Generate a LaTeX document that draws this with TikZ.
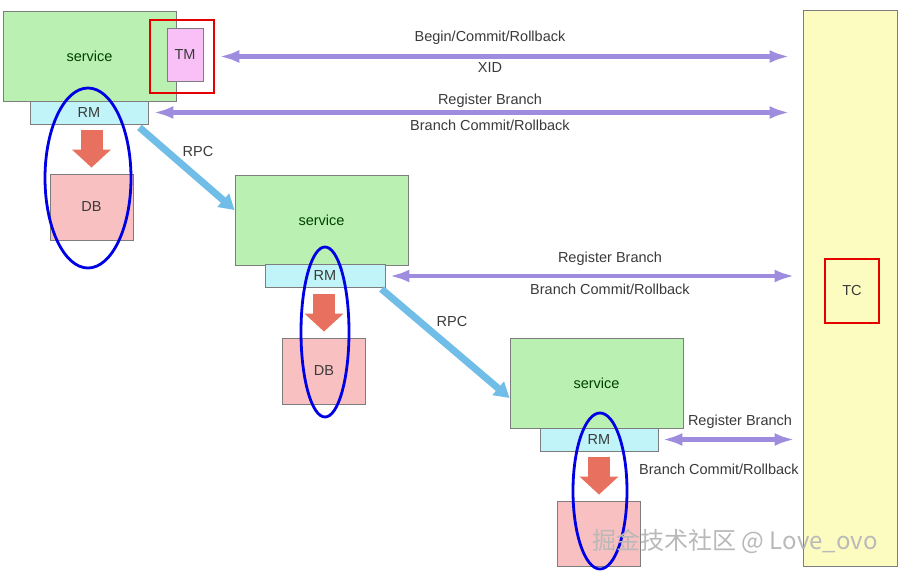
\documentclass[tikz,border=0pt]{standalone}
\usepackage{fontspec}
\setmainfont{Liberation Sans}
\newfontfamily\cjkfont{Noto Sans CJK SC}
\usetikzlibrary{arrows.meta}
\definecolor{svcgreen}{RGB}{186,240,178}
\definecolor{rmcyan}{RGB}{192,244,248}
\definecolor{tmpink}{RGB}{248,192,246}
\definecolor{dbpink}{RGB}{248,192,192}
\definecolor{tcyellow}{RGB}{253,252,192}
\definecolor{msgpurple}{RGB}{158,140,222}
\definecolor{rpcblue}{RGB}{112,190,232}
\definecolor{flowred}{RGB}{232,112,94}
\definecolor{boxgray}{RGB}{125,125,125}
\definecolor{labelgray}{RGB}{58,58,58}
\tikzset{
  box/.style={draw=boxgray,line width=0.9pt,inner sep=0pt,font=\fontsize{14.5}{14.5}\selectfont,text=labelgray},
  service/.style={box,fill=svcgreen,minimum width=173pt,minimum height=90pt,text=green!25!black},
  rmbox/.style={box,fill=rmcyan,minimum width=118pt,minimum height=23pt},
  dbbox/.style={box,fill=dbpink,minimum width=83pt,minimum height=66pt},
  tmbox/.style={box,fill=tmpink,minimum width=36pt,minimum height=53pt},
  tcbar/.style={box,fill=tcyellow,minimum width=94pt,minimum height=556pt},
  redframe/.style={draw=red!90!black,line width=2.6pt,inner sep=0pt,font=\fontsize{14.5}{14.5}\selectfont,text=labelgray},
  msg/.style={{Latex[length=20pt,width=13pt]}-{Latex[length=20pt,width=13pt]},line width=4.5pt,msgpurple},
  rpc/.style={-{Triangle[length=15pt,width=17pt]},line width=7pt,rpcblue},
  flow/.style={-{Triangle[length=18pt,width=38pt]},line width=22pt,flowred,shorten <=6pt,shorten >=6pt},
  ring/.style={draw=blue!90!black,line width=2.8pt},
  lbl/.style={font=\fontsize{14.5}{14.5}\selectfont,text=labelgray,inner sep=0pt}
}
\begin{document}
\begin{tikzpicture}[x=1pt,y=-1pt]
  \useasboundingbox (0,0) rectangle (903,573);
  \fill[white] (0,0) rectangle (903,573);
  \node[tcbar] (tc) at (850,288) {};
  \node[redframe,minimum width=54pt,minimum height=64pt] (tcframe) at (852,291) {TC};

  \node[service] (svc1) at (89.5,56) {service};
  \node[tmbox] (tm) at (185,54.5) {TM};
  \node[redframe,minimum width=64pt,minimum height=73pt] (tmframe) at (182,56.5) {};
  \node[rmbox] (rm1) at (89,112.5) {RM};
  \node[dbbox] (db1) at (91.5,207) {DB};

  \node[service] (svc2) at (321.5,220) {service};
  \node[rmbox,minimum width=120pt] (rm2) at (325,276) {RM};
  \node[dbbox] (db2) at (324,371) {DB};

  \node[service] (svc3) at (596.5,383) {service};
  \node[rmbox] (rm3) at (599,439.5) {RM};
  \node[dbbox,minimum height=65pt] (db3) at (599,533.5) {};

  \draw[msg,shorten <=4pt,shorten >=13pt] (tmframe.east) -- (tmframe.east -| tc.west);
  \node[lbl] at (490,38) {Begin/Commit/Rollback};
  \node[lbl] at (490,68) {XID};
  \draw[msg,shorten <=5pt,shorten >=13pt] (rm1.east) -- (rm1.east -| tc.west);
  \node[lbl] at (490,101) {Register Branch};
  \node[lbl] at (490,125) {Branch Commit/Rollback};
  \draw[msg,shorten <=4pt,shorten >=8pt] (rm2.east) -- (rm2.east -| tc.west);
  \node[lbl] at (610,259) {Register Branch};
  \node[lbl] at (610,289) {Branch Commit/Rollback};
  \draw[msg,shorten <=4pt,shorten >=8pt] (rm3.east) -- (rm3.east -| tc.west);
  \node[lbl] at (740,422) {Register Branch};
  \node[lbl] at (719,469) {Branch Commit/Rollback};

  \draw[rpc] ([xshift=-9pt,yshift=-3pt]rm1.south east) -- ([yshift=10pt]svc2.west);
  \node[lbl] at (198,152) {RPC};
  \draw[rpc] ([xshift=-4pt,yshift=-1pt]rm2.south east) -- ([yshift=-15pt]svc3.west);
  \node[lbl] at (452,322) {RPC};

  \draw[flow] (db1.north |- rm1.south) -- (db1.north);
  \draw[flow] (db2.north |- rm2.south) -- (db2.north);
  \draw[flow] (db3.north |- rm3.south) -- (db3.north);

  \draw[ring] (88,178) ellipse [x radius=43pt,y radius=90pt];
  \draw[ring] (325,332) ellipse [x radius=24pt,y radius=85pt];
  \draw[ring] (600,491) ellipse [x radius=27pt,y radius=78pt];

  \node[inner sep=0pt,font=\cjkfont\fontsize{24}{24}\selectfont,text=gray!55] (mark) at (735,541)
    {掘金技术社区 @ Love\_ovo};
\end{tikzpicture}
\end{document}
